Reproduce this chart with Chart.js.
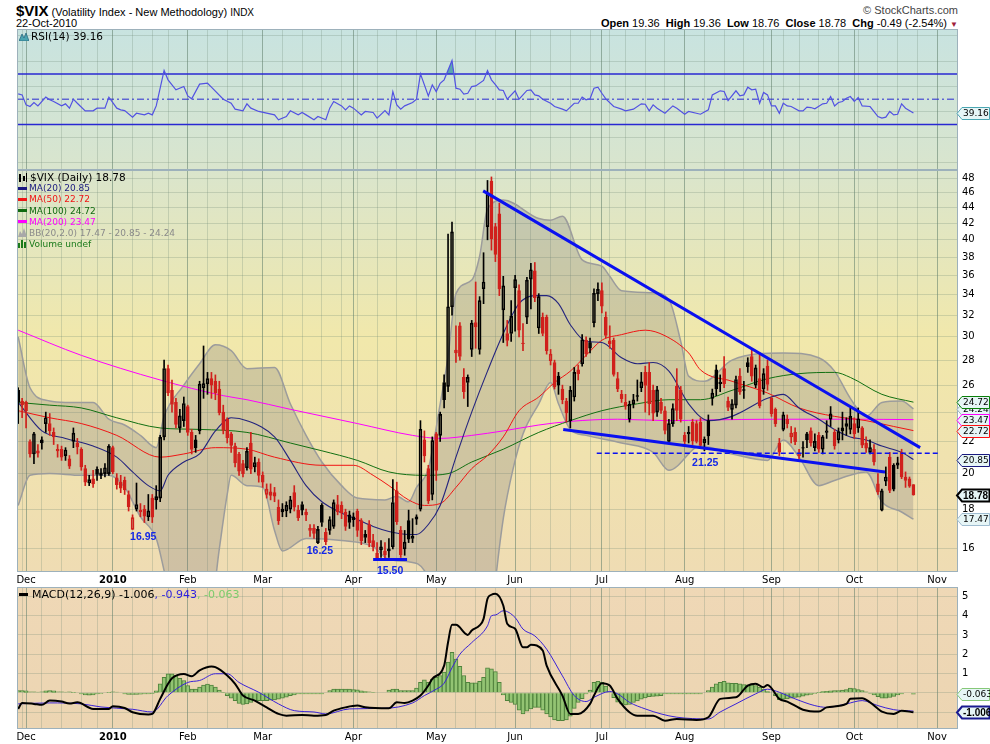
<!DOCTYPE html>
<html>
<head>
<meta charset="utf-8">
<title>$VIX daily</title>
<script src="https://cdn.jsdelivr.net/npm/chart.js@4.4.1/dist/chart.umd.min.js"></script>
<style>
  html, body { margin: 0; padding: 0; background: #fff; }
  body { position: relative; width: 990px; height: 744px; overflow: hidden; font-family: 'Liberation Sans', Arial, sans-serif; }
  canvas { position: absolute; left: 0; }
  .txt { position: absolute; white-space: nowrap; line-height: 1; color: #000; }
  .lg { position: absolute; white-space: nowrap; font-family: 'DejaVu Sans', sans-serif; }
  .lg i { display: inline-block; width: 9px; height: 3px; vertical-align: middle; margin: 0 2px 1px 0; }
  .lg svg { vertical-align: -1px; margin-right: 2px; }
</style>
</head>
<body>
<div class="txt" style="left:16px;top:3px;font-size:11px"><b style="font-size:15px">$VIX</b> (Volatility Index - New Methodology) <span style="font-size:10px">INDX</span></div>
<div class="txt" style="left:16px;top:18px;font-size:11px">22-Oct-2010</div>
<div class="txt" style="right:32px;top:5px;font-size:11px;color:#444">&copy; StockCharts.com</div>
<div class="txt" style="right:32px;top:18px;font-size:11px"><b>Open</b> 19.36 &nbsp;<b>High</b> 19.36 &nbsp;<b>Low</b> 18.76 &nbsp;<b>Close</b> 18.78 &nbsp;<b>Chg</b> -0.49 (-2.54%) <span style="color:#a0203a;font-size:8px">&#9660;</span></div>

<canvas id="rsi" width="990" height="142" style="top:28px"></canvas>
<canvas id="price" width="990" height="417" style="top:170px"></canvas>
<canvas id="macd" width="990" height="158" style="top:586px"></canvas>

<div class="lg" style="left:19px;top:31px;font-size:10.5px;line-height:10.5px"><svg width="10" height="9"><path d="M0 9 L3 2 L5 6 L7 1 L10 9 Z" fill="#4aa4b0" stroke="#2a6a80" stroke-width="0.8"/></svg>RSI(14) 39.16</div>

<div class="lg" style="left:18px;top:172px;font-size:9px;line-height:11.2px">
  <div style="font-size:10.5px"><svg width="10" height="9"><rect x="1" y="1" width="2" height="8" fill="#000"/><rect x="5" y="3" width="2" height="5" fill="#000"/><rect x="8" y="0" width="1" height="9" fill="#000"/></svg>$VIX (Daily) 18.78</div>
  <div style="color:#1a1a80"><i style="background:#1a1a80"></i>MA(20) 20.85</div>
  <div style="color:#f01414"><i style="background:#f01414"></i>MA(50) 22.72</div>
  <div style="color:#106a10"><i style="background:#106a10"></i>MA(100) 24.72</div>
  <div style="color:#ff00ff"><i style="background:#ff00ff"></i>MA(200) 23.47</div>
  <div style="color:#8a8a8a"><svg width="9" height="9"><path d="M0 9 L2 3 L4 6 L6 0 L9 9 Z" fill="#a8a8a8"/></svg>BB(20,2.0) 17.47 - 20.85 - 24.24</div>
  <div style="color:#1a7a1a"><svg width="9" height="9"><rect x="0" y="4" width="2" height="5" fill="#1a7a1a"/><rect x="3" y="1" width="2" height="8" fill="#1a7a1a"/><rect x="6" y="3" width="2" height="6" fill="#1a7a1a"/></svg>Volume undef</div>
</div>

<div class="lg" style="left:19px;top:589px;font-size:11px;line-height:11px"><i style="background:#000;width:9px;height:3px;margin-right:4px"></i>MACD(12,26,9) -1.006<span style="color:#2a1ee0">, -0.943</span><span style="color:#7ccc6c">, -0.063</span></div>

<script>
// ---- axis layout (trading-day index, 0 = 1 Dec 2009) ----
const X_MIN = -2.3
const X_MAX = 236.3
const FIRST_DAY = -2
const monthDays = [0, 22, 41, 60, 83, 104, 124, 146, 167, 189, 210, 231]
const monthNames = ['Dec', '2010', 'Feb', 'Mar', 'Apr', 'May', 'Jun', 'Jul', 'Aug', 'Sep', 'Oct', 'Nov']
const weekDays = [-1, 4, 9, 14, 18, 27, 32, 36, 46, 51, 55, 65, 70, 75, 80, 84, 89, 94, 99, 109, 114, 119,
  128, 133, 138, 143, 148, 152, 157, 162, 172, 177, 182, 187, 192, 196, 201, 206, 211, 216, 221, 226]
const priceTicks = [16, 18, 20, 22, 24, 26, 28, 30, 32, 34, 36, 38, 40, 42, 44, 46, 48]
const rsiTicks = [0, 10, 20, 30, 40, 50, 60, 70, 80, 90, 100]
const rsiLabels = [10, 30, 50, 70, 90]
const macdTicks = [-1, 0, 1, 2, 3, 4, 5]

// ---- daily candles, 27 Nov 2009 .. 22 Oct 2010 ----
const opens = [
  25.6, 24.8,
  24.7, 22.0, 21.2, 21.4, 22.1, 23.2, 23.2, 22.6, 21.4, 21.5, 21.1, 20.9, 22.0, 21.9, 21.5, 20.3, 19.45, 19.7, 20.25, 19.9, 20.0, 20.0,
  21.6, 19.75, 19.5, 19.6, 18.8, 16.95, 18.0, 17.95, 18.0, 17.6, 18.6, 18.5, 18.6, 22.3, 27.3, 25.6, 24.7, 22.9, 23.4,
  24.4, 22.6, 22.1, 22.7, 25.8, 26.1, 26.5, 26.3, 25.7, 24.0, 23.5, 22.5, 21.7, 21.2, 20.6, 20.35, 21.9, 20.4, 20.7,
  19.9, 18.8, 18.95, 18.9, 18.1, 18.0, 17.9, 18.0, 18.9, 17.95, 18.25, 17.85, 17.0, 17.0, 16.3, 18.2, 16.8, 16.9, 17.1, 18.25, 18.2, 17.85, 17.7,
  17.6, 17.9, 17.4, 16.7, 17.2, 16.4, 15.8, 15.95, 15.9, 16.0, 16.1, 19.0, 16.9, 16.0, 17.4, 16.5, 17.6, 18.0, 22.1, 20.3, 18.8,
  22.5, 22.4, 26.2, 25.9, 32.8, 28.6, 31.0, 26.6, 26.2, 28.9, 31.3, 28.9, 34.6, 41.6, 47.6, 41.6, 43.2, 32.5, 30.3, 30.3,
  34.7, 34.4, 29.4, 31.8, 35.6, 36.5, 30.8, 31.8, 31.8, 27.95, 27.8, 26.7, 25.7, 24.8, 23.4, 25.1, 27.2, 27.7, 29.7, 29.5, 31.3, 34.1,
  34.4, 31.8, 29.4, 29.7, 26.5, 25.3, 24.7, 23.5, 24.6, 25.2, 25.8, 27.0, 27.0, 25.6, 24.0, 24.7, 24.1, 22.0, 23.2, 25.9, 25.6,
  22.4, 22.5, 23.3, 23.2, 23.3, 21.9, 23.4, 25.0, 27.2, 26.1, 27.3, 24.8, 24.2, 24.5, 26.7, 25.6, 27.8, 28.3, 26.0, 26.5, 25.7, 27.5,
  25.0, 24.2, 21.9, 22.8, 23.5, 22.3, 22.6, 21.1, 21.6, 22.5, 22.7, 21.6, 22.4, 21.5, 22.6, 23.5, 22.6, 22.1, 22.9, 23.0, 22.8,
  23.2, 22.9, 22.9, 21.9, 21.3, 21.5, 19.4, 17.95, 19.55, 21.0, 20.5, 20.5, 21.3, 19.8, 19.7, 19.36
]
const highs = [
  25.8, 25.0,
  24.8, 22.1, 22.6, 21.8, 22.3, 24.0, 23.9, 22.9, 21.8, 21.7, 21.6, 21.1, 22.9, 22.2, 21.6, 20.5, 19.9, 20.2, 20.4, 20.3, 20.6, 21.8,
  21.7, 20.0, 19.9, 19.8, 19.0, 17.7, 19.45, 18.3, 18.2, 18.8, 18.8, 19.3, 22.4, 28.0, 27.6, 26.4, 25.0, 24.2, 25.1,
  24.5, 22.8, 22.4, 26.3, 29.2, 27.0, 27.0, 26.8, 26.3, 24.5, 23.6, 22.6, 21.9, 21.3, 20.8, 21.6, 22.6, 21.0, 20.9,
  20.1, 19.4, 19.4, 19.2, 18.5, 18.3, 18.4, 18.7, 19.3, 18.2, 18.4, 18.0, 17.2, 17.2, 17.1, 18.3, 17.0, 17.6, 18.5, 18.75, 18.4, 18.0, 17.9,
  17.8, 18.0, 17.5, 16.9, 17.4, 16.7, 16.3, 16.4, 16.3, 16.5, 19.65, 19.5, 17.1, 16.9, 17.95, 17.5, 17.7, 23.4, 22.7, 20.5, 22.3,
  22.6, 24.0, 26.8, 40.7, 42.15, 31.0, 31.3, 27.3, 26.8, 31.5, 35.3, 33.8, 38.5, 47.7, 48.2, 42.0, 44.6, 35.9, 31.5, 33.4,
  36.0, 35.0, 31.2, 35.8, 37.3, 37.4, 34.1, 32.2, 32.0, 28.9, 28.0, 27.0, 26.0, 25.0, 25.9, 27.4, 27.6, 30.2, 30.0, 29.9, 34.6, 35.2,
  35.2, 32.3, 31.0, 29.9, 27.0, 25.6, 25.3, 24.8, 25.3, 26.4, 27.0, 27.5, 27.8, 26.0, 25.9, 25.0, 24.4, 23.5, 24.6, 27.3, 25.9,
  22.6, 23.0, 23.5, 23.4, 23.6, 22.3, 23.8, 25.7, 27.6, 26.8, 28.3, 25.1, 24.9, 26.7, 27.3, 26.3, 28.2, 29.0, 27.6, 28.6, 27.3, 28.0,
  25.1, 24.3, 22.2, 24.0, 23.8, 23.0, 22.9, 21.5, 22.0, 22.6, 22.9, 22.5, 22.6, 22.4, 23.4, 24.4, 22.8, 22.9, 24.0, 23.6, 24.3,
  23.6, 24.3, 23.0, 22.3, 22.1, 21.8, 20.0, 19.1, 20.4, 21.3, 20.6, 21.0, 21.5, 20.1, 19.8, 19.36
]
const lows = [
  23.2, 23.6,
  22.9, 21.0, 20.6, 21.0, 21.5, 22.6, 22.4, 21.8, 21.0, 20.8, 20.8, 20.3, 21.6, 21.2, 20.2, 19.3, 19.3, 19.2, 19.6, 19.7, 19.8, 19.9,
  20.0, 19.1, 18.9, 18.8, 17.9, 16.95, 17.9, 17.6, 17.3, 17.4, 17.3, 18.0, 18.4, 22.1, 25.2, 24.0, 22.9, 22.6, 23.0,
  22.4, 21.2, 21.3, 22.5, 25.0, 25.3, 25.0, 24.9, 23.8, 22.5, 21.9, 21.3, 20.4, 19.9, 19.8, 20.2, 20.0, 20.1, 19.5,
  19.2, 18.6, 18.5, 18.4, 17.2, 17.6, 17.6, 17.8, 17.9, 17.4, 17.7, 17.4, 16.6, 16.5, 16.25, 17.1, 16.2, 16.7, 17.0, 17.7, 17.5, 16.9, 17.0,
  17.1, 16.6, 16.2, 16.3, 16.1, 15.9, 15.5, 15.6, 15.5, 15.6, 16.0, 17.2, 15.6, 15.7, 16.3, 16.3, 17.2, 17.9, 20.7, 18.3, 18.5,
  19.6, 22.0, 24.3, 25.5, 32.0, 27.8, 28.0, 25.0, 24.4, 28.3, 29.0, 28.5, 33.1, 40.0, 38.8, 37.5, 33.9, 29.5, 29.2, 29.6,
  30.5, 30.0, 28.8, 31.2, 32.6, 33.3, 30.3, 30.1, 28.5, 27.6, 25.7, 25.3, 24.6, 23.3, 22.9, 24.8, 26.4, 27.5, 28.3, 28.6, 30.9, 33.4,
  32.2, 29.9, 29.0, 26.7, 25.5, 24.7, 24.2, 23.3, 24.3, 24.8, 25.5, 24.0, 23.8, 23.4, 23.7, 23.9, 22.5, 21.9, 23.0, 23.4, 23.3,
  21.7, 21.9, 21.8, 21.9, 21.6, 21.4, 21.8, 24.5, 25.2, 25.5, 25.8, 24.1, 23.5, 24.3, 25.3, 25.0, 27.0, 26.3, 25.8, 24.3, 25.3, 25.6,
  23.7, 23.0, 21.1, 22.7, 22.9, 21.9, 21.8, 20.9, 21.0, 21.6, 21.7, 21.4, 21.3, 21.2, 22.2, 23.0, 21.5, 21.9, 22.1, 22.4, 22.5,
  22.2, 22.6, 21.6, 21.3, 21.2, 20.5, 18.8, 17.9, 19.3, 18.9, 19.0, 20.3, 19.7, 19.2, 19.2, 18.76
]
const closes = [
  24.74, 24.51,
  24.1, 21.2, 22.5, 21.25, 21.9, 23.6, 22.7, 22.3, 21.5, 21.0, 21.45, 20.45, 22.55, 21.65, 20.4, 19.5, 19.65, 19.4, 19.95, 20.05, 20.35, 21.68,
  20.1, 19.35, 19.16, 19.06, 18.13, 17.55, 18.25, 17.85, 17.63, 17.91, 17.58, 18.68, 22.27, 27.31, 25.41, 24.55, 23.14, 23.73, 24.62,
  22.59, 21.48, 21.6, 26.08, 26.11, 26.51, 26.0, 25.4, 23.96, 22.73, 22.25, 21.75, 20.65, 20.15, 20.0, 21.37, 20.27, 20.67, 19.9,
  19.5, 19.1, 18.75, 18.7, 17.4, 17.85, 18.2, 18.5, 18.1, 17.55, 17.95, 17.7, 16.9, 16.75, 16.95, 17.3, 16.35, 17.45, 18.35, 17.85, 17.8, 17.1, 17.3,
  17.45, 16.9, 16.4, 16.55, 16.3, 16.1, 15.58, 16.1, 15.72, 15.9, 18.36, 17.34, 15.73, 16.32, 16.47, 16.62, 17.47, 22.81, 21.08, 18.44, 22.05,
  20.19, 23.84, 24.91, 32.8, 40.95, 28.84, 28.3, 25.5, 26.6, 31.24, 30.9, 33.4, 35.3, 45.79, 40.1, 38.32, 34.6, 34.9, 29.68, 31.9,
  35.54, 30.6, 29.46, 35.48, 36.6, 33.7, 33.8, 30.3, 28.79, 28.5, 25.87, 26.0, 24.9, 23.95, 25.6, 27.0, 26.9, 29.74, 28.53, 29.0, 34.13, 34.54,
  32.86, 30.12, 29.65, 26.84, 25.71, 24.98, 24.43, 24.56, 24.89, 25.14, 26.25, 25.97, 24.6, 23.93, 25.64, 24.13, 22.73, 23.19, 24.25, 24.13, 23.5,
  22.01, 22.6, 22.05, 22.0, 21.74, 22.14, 22.37, 25.39, 25.7, 26.24, 26.1, 24.33, 24.59, 26.44, 25.49, 25.66, 27.46, 26.7, 27.37, 24.45, 26.9, 26.05,
  23.89, 23.2, 21.31, 23.8, 23.2, 22.55, 21.99, 21.21, 21.56, 22.1, 21.9, 22.01, 21.5, 22.3, 22.7, 23.87, 21.71, 22.66, 22.7, 23.2, 23.7,
  22.5, 23.53, 21.76, 21.56, 21.6, 20.71, 18.95, 19.0, 19.8, 19.03, 19.1, 20.65, 19.8, 19.6, 19.27, 18.78
]

// ---- overlays, [day, value] ----
const ma20 = [[-2, 24.7], [4, 22.7], [10, 22.2], [17, 21.7], [23, 21.0], [27, 20.1], [31, 19.3], [34, 19.0], [36, 19.9],
  [40, 20.7], [44, 21.2], [48, 22.7], [52, 23.6], [56, 23.4], [63, 22.3], [67, 20.8], [71, 19.3], [75, 18.4], [80, 17.8],
  [84, 17.45], [88, 17.1], [92, 16.85], [97, 16.7], [99, 16.7], [102, 17.2], [105, 18.2], [109, 21.0], [113, 24.0],
  [117, 27.1], [121, 30.3], [125, 33.1], [129, 33.9], [132, 33.9], [135, 33.1], [138, 31.1], [142, 29.6], [146, 29.5],
  [151, 28.2], [155, 27.7], [159, 27.8], [163, 27.1], [168, 24.6], [173, 23.4], [179, 23.7], [188, 25.0], [192, 25.3],
  [196, 24.3], [201, 23.5], [205, 22.8], [209, 22.3], [213, 22.1], [217, 21.7], [222, 21.3], [225, 20.85]]
const ma50 = [[-2, 24.1], [6, 23.6], [14, 23.2], [23, 22.4], [34, 21.0], [40, 21.2], [48, 21.6], [56, 21.5], [63, 21.0],
  [75, 20.5], [83, 20.5], [88, 19.9], [92, 19.3], [97, 18.5], [101, 18.2], [105, 18.3], [109, 19.2], [113, 20.3],
  [117, 21.1], [121, 22.3], [125, 24.1], [130, 25.1], [134, 26.2], [138, 27.1], [142, 28.4], [146, 29.7], [151, 30.2],
  [157, 30.6], [162, 30.1], [168, 28.6], [171, 27.2], [179, 26.3], [188, 25.4], [196, 24.3], [205, 23.7], [213, 23.4],
  [220, 23.0], [225, 22.72]]
const ma100 = [[-2, 24.7], [6, 24.5], [14, 24.3], [23, 23.6], [34, 22.9], [44, 22.8], [56, 22.6], [67, 21.9], [75, 21.4],
  [84, 20.8], [92, 20.1], [101, 19.9], [107, 20.0], [113, 20.7], [121, 21.5], [130, 22.6], [138, 23.4], [146, 24.1],
  [155, 24.6], [163, 24.9], [171, 24.9], [179, 25.6], [188, 26.5], [196, 26.9], [205, 27.0], [209, 26.6], [217, 25.3],
  [225, 24.72]]
const ma200 = [[-2, 30.6], [14, 28.4], [34, 26.4], [50, 25.2], [56, 24.9], [67, 24.2], [84, 23.2], [98, 22.4], [105, 22.2],
  [113, 22.4], [121, 22.7], [130, 23.1], [138, 23.35], [150, 23.5], [163, 23.4], [173, 23.45], [190, 23.5], [210, 23.5],
  [225, 23.47]]
const bbUpper = [[-2, 30.0], [1, 25.8], [6, 24.8], [10, 24.7], [17, 24.7], [21, 23.5], [25, 23.1], [29, 22.4], [33, 21.6],
  [35, 23.7], [40, 26.0], [44, 27.7], [48, 29.3], [52, 28.8], [56, 27.3], [63, 27.4], [67, 24.6], [71, 22.4], [75, 20.7],
  [80, 19.3], [84, 18.6], [91, 18.5], [94, 18.7], [97, 18.4], [99, 19.2], [102, 20.3], [105, 24.6], [107, 28.3],
  [109, 34.1], [113, 35.5], [115, 38.1], [117, 43.8], [121, 45.0], [130, 42.6], [133, 42.4], [136, 42.9], [141, 37.7],
  [146, 37.0], [148, 35.9], [151, 34.4], [159, 34.2], [163, 33.5], [166, 29.6], [168, 26.7], [172, 26.3], [179, 28.0],
  [192, 28.6], [201, 28.2], [205, 27.1], [209, 25.0], [213, 23.7], [217, 24.7], [222, 24.8], [225, 24.24]]
const bbLower = [[-2, 18.2], [1, 19.9], [6, 20.0], [14, 19.9], [21, 19.9], [25, 19.2], [29, 17.6], [33, 16.5], [35, 15.0],
  [37, 13.5], [42, 12.8], [47, 13.5], [49, 16.0], [51, 18.8], [52, 19.9], [56, 19.3], [60, 19.2], [63, 16.9], [65, 15.9],
  [71, 16.5], [80, 16.4], [88, 16.1], [92, 15.5], [97, 15.4], [101, 15.0], [104, 13.5], [110, 10.0], [115, 9.0],
  [119, 14.5], [121, 17.5], [123.5, 20.3], [126, 22.5], [130, 24.6], [133, 26.2], [135, 24.6], [138, 22.8], [142, 22.4],
  [151, 21.9], [159, 21.3], [163, 20.2], [171, 21.7], [179, 21.2], [188, 20.8], [192, 22.1], [196, 21.0], [201, 19.3],
  [205, 19.6], [209, 19.9], [213, 20.1], [217, 18.4], [222, 17.85], [225, 17.47]]

// hand-drawn annotations
const trendUpper = [[115.9, 46.25], [226.7, 21.6]]
const trendLower = [[136.2, 22.8], [217.8, 20.1]]
const supportLine = [[144.7, 21.25], [231.7, 21.25]]
const aprilLow = [[88, 15.5], [96.6, 15.5]]
const noteText = ['16.95', '16.25', '15.50', '21.25']
const noteX = [29.7, 74.5, 92.3, 172.2]
const noteY = [16.57, 15.9, 15.0, 20.65]

// ---- RSI(14) ----
const rsiPts = [[-2, 54.2], [-1, 53.4], [0, 45.5], [1, 44.2], [2, 47.4], [3, 44.7], [5, 51.6], [6, 49.5], [7, 48.2],
  [9, 44.7], [10, 46.3], [11, 42.9], [12, 50], [13, 46.8], [15, 40.8], [17, 40.8], [18, 42.9], [20, 42.9], [21, 51.6],
  [23, 42.9], [24, 41.6], [25, 41], [27, 35.8], [28, 38.9], [30, 37.6], [31, 38.9], [32, 37.6], [33, 44.7], [35, 72.7],
  [36, 65.3], [38, 57.4], [40, 60], [41, 52.6], [42, 50.3], [44, 61.9], [46, 62.6], [47, 59.5], [50, 50], [52, 46.8],
  [53, 42.1], [55, 40.8], [56, 46.3], [57, 42.9], [59, 40.3], [63, 37.6], [64, 33.7], [66, 36.3], [67, 40.8], [69, 37.6],
  [70, 39.5], [71, 37.6], [73, 33.7], [74, 36.3], [76, 33.7], [77, 42.9], [78, 48.2], [80, 44.7], [81, 41.6], [82, 44.7],
  [83, 42.9], [85, 37.6], [86, 40.3], [88, 39.5], [89, 35], [91, 41], [92, 37.6], [93, 56], [94, 45.5], [95, 42.1],
  [96, 44.7], [98, 47.4], [99, 50], [100, 70], [102, 52.6], [103, 61.3], [104, 56], [105, 62.6], [106, 65.3], [108, 80.6],
  [109, 58.7], [110, 57.9], [111, 54], [112, 54.7], [113, 60], [114, 60.5], [116, 64.8], [117, 72.7], [118, 65.3],
  [119, 61.5], [120, 57.4], [121, 56.9], [122, 50], [124, 56.6], [125, 50], [127, 56.9], [128, 57.4], [129, 53.4],
  [130, 52.6], [131, 50], [133, 46.8], [134, 44.2], [136, 42.1], [137, 40.8], [139, 46.8], [140, 46.8], [141, 51.6],
  [142, 49.5], [143, 50.3], [144, 58.7], [145, 59.5], [146, 54.7], [147, 50.3], [149, 44.2], [151, 42.1], [152, 40.8],
  [154, 42.1], [156, 46.3], [157, 46], [158, 40.8], [159, 45.5], [160, 42.9], [162, 38.9], [164, 44.7], [165, 42.9],
  [167, 38.1], [168, 40.3], [171, 38.1], [173, 41.6], [174, 53.4], [176, 56.6], [177, 56.1], [178, 48.9], [180, 56.6],
  [181, 52.6], [182, 53.4], [183, 59.5], [184, 57.4], [185, 57.9], [186, 46.8], [187, 55.3], [188, 53.4], [189, 44.7],
  [190, 44.7], [191, 38.9], [192, 46.8], [193, 44.7], [194, 44.2], [196, 40.8], [197, 40.8], [198, 43.7], [199, 43.4],
  [200, 42.4], [202, 46.3], [203, 46.8], [204, 52.1], [205, 44.7], [206, 47.4], [207, 48.2], [208, 50.8], [209, 52.1],
  [210, 48.2], [211, 51.3], [212, 44.7], [214, 44.2], [216, 36.3], [217, 35], [218, 35.8], [219, 40.3], [220, 37.6],
  [221, 38.1], [222, 46.3], [223, 42.9], [225, 39.16]]

// ---- MACD(12,26,9) ----
const macdLine = [[-2, -0.83], [-1, -0.52], [2, -0.57], [4, -0.62], [6, -0.40], [9, -0.45], [11, -0.55], [13, -0.49],
  [17, -0.83], [21, -0.83], [22, -0.69], [25, -0.78], [27, -1.0], [31, -1.12], [32, -1.09], [34, -0.31], [36, 0.47],
  [37, 0.76], [40, 0.98], [42, 0.86], [44, 1.16], [47, 1.36], [48, 1.33], [51, 0.90], [53, 0.47], [55, -0.14],
  [58, -0.40], [61, -0.75], [64, -1.09], [66, -1.18], [70, -1.14], [73, -1.18], [76, -1.14], [78, -0.92], [81, -0.75],
  [84, -0.66], [86, -0.75], [92, -0.80], [94, -0.49], [96, -0.52], [98, -0.40], [100, -0.14], [102, 0.38], [103, 0.73],
  [106, 1.41], [107, 2.62], [108, 3.52], [109, 3.52], [112, 3.0], [113, 3.23], [115, 3.49], [116, 3.83], [117, 4.87],
  [118, 5.08], [119, 5.13], [121, 4.52], [122, 3.58], [124, 3.32], [126, 2.36], [127, 2.36], [128, 2.49], [131, 2.19],
  [132, 1.41], [136, -0.14], [138, -1.09], [140, -1.09], [143, -0.57], [144, -0.14], [146, 0.50], [148, 0.38],
  [150, -0.31], [153, -1.0], [155, -1.18], [159, -1.18], [162, -1.44], [165, -1.35], [170, -1.40], [173, -1.26],
  [176, -0.31], [180, -0.23], [183, 0.38], [185, 0.47], [187, 0.29], [188, 0.41], [191, -0.31], [193, -0.45],
  [197, -0.87], [201, -0.97], [203, -0.75], [208, -0.57], [209, -0.31], [212, -0.28], [214, -0.49], [217, -0.97],
  [220, -1.09], [222, -0.92], [225, -1.006]]
const macdSignal = [[-2, -0.57], [6, -0.52], [14, -0.57], [19, -0.73], [27, -0.85], [32, -0.99], [36, -0.14], [41, 0.54],
  [44, 0.64], [48, 0.99], [51, 0.99], [54, 0.54], [59, 0.03], [64, -0.57], [68, -0.92], [73, -0.99], [76, -1.09],
  [82, -0.83], [91, -0.80], [98, -0.52], [101, -0.14], [104, 0.19], [106, 0.5], [108, 1.3], [110, 2.0], [113, 2.6],
  [117, 3.47], [118, 3.99], [119, 4.03], [121, 4.25], [124, 3.9], [126, 3.3], [129, 2.95], [132, 2.26], [136, 0.88],
  [139, -0.14], [142, -0.45], [144, -0.23], [148, 0.07], [150, -0.05], [153, -0.49], [157, -0.83], [161, -1.09],
  [165, -1.26], [173, -1.35], [176, -0.99], [180, -0.57], [185, -0.05], [188, 0.19], [191, 0.03], [195, -0.31],
  [200, -0.66], [203, -0.75], [208, -0.57], [212, -0.40], [216, -0.66], [220, -0.87], [225, -0.943]]
const macdHist = [
  0.12, 0.12,
  0.1, 0.05, 0.05, 0.04, 0.06, 0.1, 0.12, 0.1, 0.06, 0.05, 0.04, 0.05, 0.03, 0.0, -0.05, -0.1, -0.12, -0.1, -0.06, -0.02, 0.0, 0.03,
  0.05, 0.04, 0.0, -0.05, -0.08, -0.08, -0.08, -0.07, -0.06, -0.05, -0.04, 0.1, 0.47, 0.8, 0.98, 0.98, 0.9, 0.75, 0.64,
  0.38, 0.2, 0.2, 0.3, 0.4, 0.45, 0.4, 0.3, 0.15, 0.02, -0.14, -0.28, -0.4, -0.55, -0.6, -0.57, -0.5, -0.4, -0.4,
  -0.4, -0.4, -0.38, -0.36, -0.32, -0.28, -0.22, -0.14, -0.1, -0.05, -0.05, -0.05, -0.05, -0.05, -0.05, -0.05, 0.0, 0.12, 0.2, 0.2, 0.2, 0.2, 0.2,
  0.17, 0.16, 0.1, 0.07, 0.05, 0.02, 0.0, 0.0, 0.0, 0.15, 0.2, 0.2, 0.12, 0.12, 0.12, 0.12, 0.25, 0.55, 0.68, 0.55, 0.72,
  0.8, 0.9, 1.07, 1.6, 2.1, 1.75, 1.38, 0.9, 0.55, 0.52, 0.52, 0.6, 0.8, 1.3, 1.25, 1.1, 0.55, -0.1, -0.4, -0.5,
  -0.6, -0.9, -1.09, -0.95, -0.83, -0.75, -0.75, -0.9, -1.09, -1.25, -1.4, -1.44, -1.44, -1.4, -1.2, -0.8, -0.5, -0.3, -0.05, 0.15, 0.55, 0.6,
  0.55, 0.35, 0.05, -0.25, -0.48, -0.57, -0.62, -0.6, -0.5, -0.42, -0.32, -0.26, -0.2, -0.18, -0.17, -0.14, -0.05, -0.05, -0.05, -0.05, -0.05,
  -0.05, -0.05, -0.05, -0.05, -0.05, 0.0, 0.12, 0.3, 0.47, 0.55, 0.6, 0.52, 0.5, 0.5, 0.47, 0.43, 0.41, 0.41, 0.38, 0.3, 0.2, 0.07,
  0.0, -0.14, -0.35, -0.33, -0.31, -0.28, -0.23, -0.22, -0.17, -0.12, -0.08, -0.02, 0.03, 0.07, 0.08, 0.1, 0.12, 0.12, 0.15, 0.17, 0.25,
  0.22, 0.17, 0.12, 0.05, -0.03, -0.1, -0.2, -0.27, -0.27, -0.24, -0.18, -0.1, -0.05, 0.0, 0.0, -0.063
]

// ---------------------------------------------------------------------------
Chart.defaults.font.family = "'DejaVu Sans', sans-serif"
Chart.defaults.color = '#000'

const RED = '#d0201c'
const gridDays = [...monthDays, ...weekDays].sort((a, b) => a - b)
const pts = arr => arr.map(([x, y]) => ({ x, y }))

function xAxis(showLabels) {
  return {
    type: 'linear', min: X_MIN, max: X_MAX, offset: false,
    afterBuildTicks: s => { s.ticks = gridDays.map(v => ({ value: v })) },
    afterFit: s => { s.height = showLabels ? 15 : 0; s.paddingLeft = 0; s.paddingRight = 0 },
    grid: {
      offset: false, drawTicks: false, lineWidth: 1,
      color: c => (c.tick && monthDays.includes(c.tick.value)) ? 'rgba(95,125,105,0.55)' : 'rgba(110,135,115,0.26)'
    },
    border: { display: false },
    ticks: {
      display: showLabels, autoSkip: false, maxRotation: 0, minRotation: 0, padding: 2,
      font: c => ({ size: 10, weight: (c.tick && c.tick.value === 22) ? 'bold' : 'normal' }),
      callback: v => { const k = monthDays.indexOf(v); return k < 0 ? '' : monthNames[k] }
    }
  }
}

function yFit(s) { s.width = 32; s.paddingTop = 0; s.paddingBottom = 0 }

function baseOptions(top) {
  return {
    responsive: false, animation: false, devicePixelRatio: 1, events: [],
    layout: { padding: { left: 17, right: 0, top: top, bottom: 0 } },
    plugins: { legend: { display: false }, tooltip: { enabled: false }, filler: { drawTime: 'beforeDatasetsDraw' } }
  }
}

function panel(stops, extra) {
  return {
    id: 'panel',
    beforeDraw(chart) {
      const { ctx, chartArea: a } = chart
      const g = ctx.createLinearGradient(0, a.top, 0, a.bottom)
      stops.forEach(([p, c]) => g.addColorStop(p, c))
      ctx.save()
      ctx.fillStyle = g
      ctx.fillRect(a.left, a.top, a.right - a.left, a.bottom - a.top)
      ctx.restore()
    },
    afterDraw(chart) {
      const { ctx, chartArea: a } = chart
      ctx.save()
      ctx.strokeStyle = '#9db1bb'
      ctx.lineWidth = 1
      ctx.strokeRect(a.left + 0.5, a.top + 0.5, a.right - a.left - 1, a.bottom - a.top - 1)
      ctx.restore()
      if (extra) extra(chart)
    }
  }
}

// value tag on the right axis, box grows with its text
function drawTag(chart, value, text, color, heavy) {
  const { ctx, chartArea: a } = chart
  const y = Math.round(chart.scales.y.getPixelForValue(value)) + 0.5
  ctx.save()
  ctx.font = heavy ? 'bold 10px "Liberation Sans"' : '9px "DejaVu Sans"'
  const x0 = a.right - 1, x1 = a.right + 4
  const x2 = Math.min(989.5, Math.max(a.right + 30, x1 + ctx.measureText(text).width + 3))
  ctx.beginPath()
  ctx.moveTo(x0, y)
  ctx.lineTo(x1, y - 6)
  ctx.lineTo(x2, y - 6)
  ctx.lineTo(x2, y + 6)
  ctx.lineTo(x1, y + 6)
  ctx.closePath()
  ctx.fillStyle = '#e6f5f6'
  ctx.fill()
  ctx.lineWidth = heavy ? 2 : 1
  ctx.strokeStyle = color
  ctx.stroke()
  ctx.fillStyle = '#000'
  ctx.textAlign = 'left'
  ctx.textBaseline = 'middle'
  ctx.fillText(text, x1 + 1, y + 0.5)
  ctx.restore()
}

function level(value, dash, width) {
  return {
    data: [{ x: X_MIN, y: value }, { x: X_MAX, y: value }], borderColor: '#2828d2', borderWidth: width,
    borderDash: dash, pointRadius: 0, fill: false, order: 1
  }
}

// ---- RSI panel ----
new Chart(document.getElementById('rsi'), {
  type: 'line',
  data: {
    datasets: [
      {
        data: pts(rsiPts), borderColor: '#5252e2', borderWidth: 1.2, pointRadius: 0, tension: 0, order: 0,
        fill: { target: { value: 70 }, above: 'rgba(64,150,165,0.8)', below: 'rgba(0,0,0,0)' }
      },
      level(70, [], 1.5),
      level(30, [], 1.5),
      level(50, [7, 3, 2, 3], 1)
    ]
  },
  options: Object.assign(baseOptions(1), {
    scales: {
      x: xAxis(false),
      y: {
        type: 'linear', position: 'right', min: -6, max: 105.5,
        afterBuildTicks: s => { s.ticks = rsiTicks.map(v => ({ value: v })) },
        afterFit: yFit,
        grid: { drawTicks: false, color: 'rgba(110,135,115,0.26)' },
        border: { display: false },
        ticks: { padding: 4, font: { size: 10 }, callback: v => rsiLabels.includes(v) ? String(v) : '' }
      }
    }
  }),
  plugins: [panel([[0, '#c8e3e0'], [1, '#d9e5cd']], chart => {
    drawTag(chart, 39.16, '39.16', '#4aa6b2', false)
  })]
})

// ---- price panel ----
const days = closes.map((c, i) => i + FIRST_DAY)
const candleColor = closes.map((c, i) => (i === 0 || c >= closes[i - 1]) ? '#000000' : RED)
const bodyFill = closes.map((c, i) => c >= opens[i] ? 'rgba(0,0,0,0)' : candleColor[i])
const bodies = days.map((d, i) => ({ x: d, y: [Math.min(opens[i], closes[i]), Math.max(opens[i], closes[i])] }))
const upperWicks = days.map((d, i) => ({ x: d, y: [Math.max(opens[i], closes[i]), highs[i]] }))
const lowerWicks = days.map((d, i) => ({ x: d, y: [lows[i], Math.min(opens[i], closes[i])] }))

function line(arr, color, width, extra) {
  return Object.assign({
    type: 'line', data: pts(arr), borderColor: color, borderWidth: width,
    pointRadius: 0, fill: false, cubicInterpolationMode: 'monotone'
  }, extra)
}

const BLUE = '#0a10f0'

new Chart(document.getElementById('price'), {
  type: 'bar',
  data: {
    datasets: [
      line(trendUpper, BLUE, 3, { order: 0 }),
      line(trendLower, BLUE, 3, { order: 0 }),
      line(supportLine, BLUE, 1.5, { order: 0, borderDash: [5, 3] }),
      line(aprilLow, BLUE, 3, { order: 0 }),
      {
        type: 'bar', order: 1, data: bodies, backgroundColor: bodyFill, borderColor: candleColor,
        borderWidth: 1, borderSkipped: false, barThickness: 3, grouped: false
      },
      { type: 'bar', order: 2, data: upperWicks, backgroundColor: candleColor, borderWidth: 0, barThickness: 1, grouped: false },
      { type: 'bar', order: 2, data: lowerWicks, backgroundColor: candleColor, borderWidth: 0, barThickness: 1, grouped: false },
      line(ma20, '#24247e', 1.1, { order: 3 }),
      line(ma50, '#f01414', 1, { order: 3 }),
      line(ma100, '#127012', 1, { order: 3 }),
      line(ma200, '#ff00ff', 1, { order: 3 }),
      line(bbUpper, '#9c9c9c', 1.5, { order: 4, fill: '+1', backgroundColor: 'rgba(105,105,115,0.24)' }),
      line(bbLower, '#9c9c9c', 1.5, { order: 4 })
    ]
  },
  options: Object.assign(baseOptions(0), {
    scales: {
      x: xAxis(true),
      y: {
        type: 'logarithmic', position: 'right', min: 14.94, max: 49.2,
        afterBuildTicks: s => { s.ticks = priceTicks.map(v => ({ value: v })) },
        afterFit: yFit,
        grid: { drawTicks: false, color: 'rgba(110,135,115,0.26)' },
        border: { display: false },
        ticks: { padding: 4, font: { size: 10 }, callback: v => v === 24 ? '' : String(v) }
      }
    }
  }),
  plugins: [panel([[0, '#dae5cc'], [0.42, '#f1e8ab'], [1, '#efdcb3']], chart => {
    const { ctx } = chart
    ctx.save()
    ctx.font = 'bold 10.5px "Liberation Sans"'
    ctx.fillStyle = '#1428e6'
    ctx.textAlign = 'center'
    ctx.textBaseline = 'middle'
    noteText.forEach((t, i) => {
      ctx.fillText(t, chart.scales.x.getPixelForValue(noteX[i]), chart.scales.y.getPixelForValue(noteY[i]))
    })
    ctx.restore()
    drawTag(chart, 24.24, '24.24', '#9fb0bc', false)
    drawTag(chart, 24.72, '24.72', '#0a800a', false)
    drawTag(chart, 23.47, '23.47', '#ff00ff', false)
    drawTag(chart, 22.72, '22.72', '#ff1010', false)
    drawTag(chart, 20.85, '20.85', '#1a1a80', false)
    drawTag(chart, 18.78, '18.78', '#000000', true)
    drawTag(chart, 17.47, '17.47', '#9fbcd0', false)
  })]
})

// ---- MACD panel ----
new Chart(document.getElementById('macd'), {
  type: 'bar',
  data: {
    datasets: [
      line(macdLine, '#000000', 2, { order: 0 }),
      line(macdSignal, '#3a22d8', 1, { order: 1 }),
      {
        type: 'bar', order: 2, data: macdHist.map((v, i) => ({ x: i + FIRST_DAY, y: v })),
        backgroundColor: '#93c473', borderColor: '#4f823c', borderWidth: 1, barThickness: 4, grouped: false
      }
    ]
  },
  options: Object.assign(baseOptions(1), {
    scales: {
      x: xAxis(true),
      y: {
        type: 'linear', position: 'right', min: -1.87, max: 5.48,
        afterBuildTicks: s => { s.ticks = macdTicks.map(v => ({ value: v })) },
        afterFit: yFit,
        grid: { drawTicks: false, color: 'rgba(110,135,115,0.26)' },
        border: { display: false },
        ticks: { padding: 4, font: { size: 10 }, callback: v => v >= 1 ? String(v) : '' }
      }
    }
  }),
  plugins: [panel([[0, '#efd8b6'], [1, '#ecd5b2']], chart => {
    drawTag(chart, -0.063, '-0.063', '#86c878', false)
    drawTag(chart, -1.006, '-1.006', '#1a1a90', true)
  })]
})
</script>
</body>
</html>
